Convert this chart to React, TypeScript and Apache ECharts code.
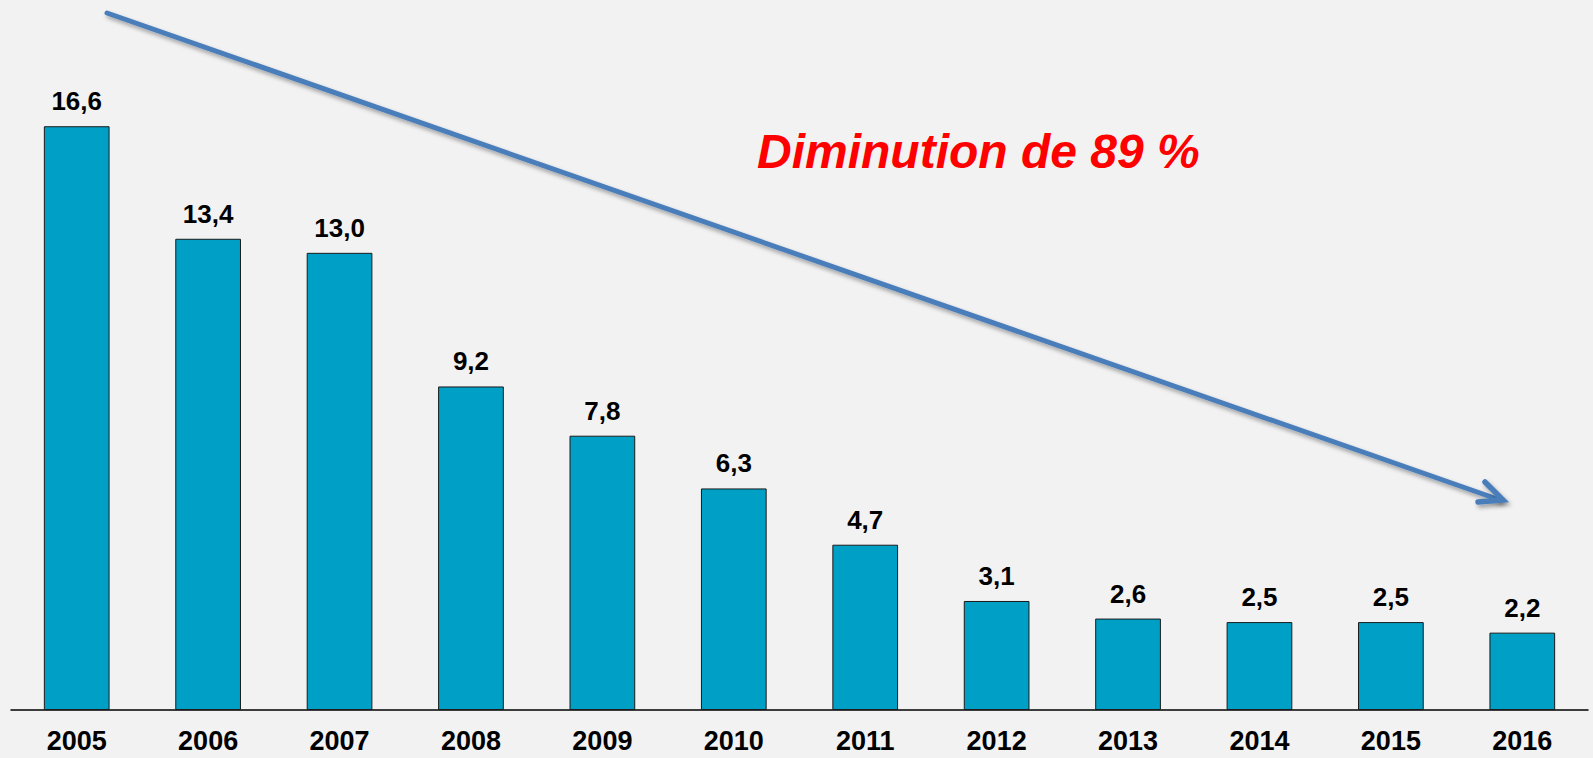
import React, { useEffect, useRef } from "react";
import * as echarts from "echarts";

const years = ["2005", "2006", "2007", "2008", "2009", "2010", "2011", "2012", "2013", "2014", "2015", "2016"];
const values = [16.6, 13.4, 13.0, 9.2, 7.8, 6.3, 4.7, 3.1, 2.6, 2.5, 2.5, 2.2];
const annotation = "Diminution de 89 %";

const FONT = "Arial, 'Liberation Sans', Helvetica, sans-serif";

export default function App() {
  const ref = useRef<HTMLDivElement>(null);
  useEffect(() => {
    document.body.style.margin = "0";
    const chart = echarts.init(ref.current!, undefined, { renderer: "svg" });
    const arrowColor = "#4A7EBB";
    const shadow = { shadowBlur: 4, shadowOffsetX: 2, shadowOffsetY: 3, shadowColor: "rgba(0,0,0,0.35)" };
    chart.setOption({
      animation: false,
      backgroundColor: "#F2F2F2",
      grid: { left: 11, right: 5, top: 77, bottom: 48, containLabel: false },
      xAxis: {
        type: "category",
        data: years,
        boundaryGap: true,
        axisTick: { show: false },
        axisLine: { lineStyle: { color: "#000", width: 1.5 } },
        axisLabel: { color: "#000", fontFamily: FONT, fontWeight: "bold", fontSize: 27, margin: 17 },
      },
      yAxis: { type: "value", min: 0, max: 18, show: false, splitLine: { show: false } },
      series: [
        {
          type: "bar",
          data: values,
          barWidth: "50%",
          itemStyle: { color: "#00A0C6", borderColor: "#1a1a1a", borderWidth: 1 },
          label: {
            show: true,
            position: "top",
            distance: 12,
            color: "#000",
            fontFamily: FONT,
            fontWeight: "bold",
            fontSize: 26,
            formatter: (p: any) => p.value.toFixed(1).replace(".", ","),
          },
        },
      ],
      graphic: [
        {
          type: "line",
          shape: { x1: 107, y1: 13, x2: 1500, y2: 500 },
          style: { stroke: arrowColor, lineWidth: 5, lineCap: "round", ...shadow },
          z: 10,
        },
        {
          type: "polyline",
          shape: { points: [[1485, 482], [1503, 500], [1478, 502]] },
          style: { stroke: arrowColor, lineWidth: 5.5, lineCap: "round", lineJoin: "miter", fill: null, ...shadow },
          z: 10,
        },
        {
          type: "text",
          x: 757,
          y: 175,
          style: {
            text: annotation,
            fill: "#FF0000",
            fontFamily: FONT,
            fontWeight: "bold",
            fontStyle: "italic",
            fontSize: 48,
            verticalAlign: "bottom",
          },
          z: 10,
        },
      ],
    });
    return () => chart.dispose();
  }, []);
  return <div ref={ref} style={{ width: 1593, height: 758 }} />;
}
